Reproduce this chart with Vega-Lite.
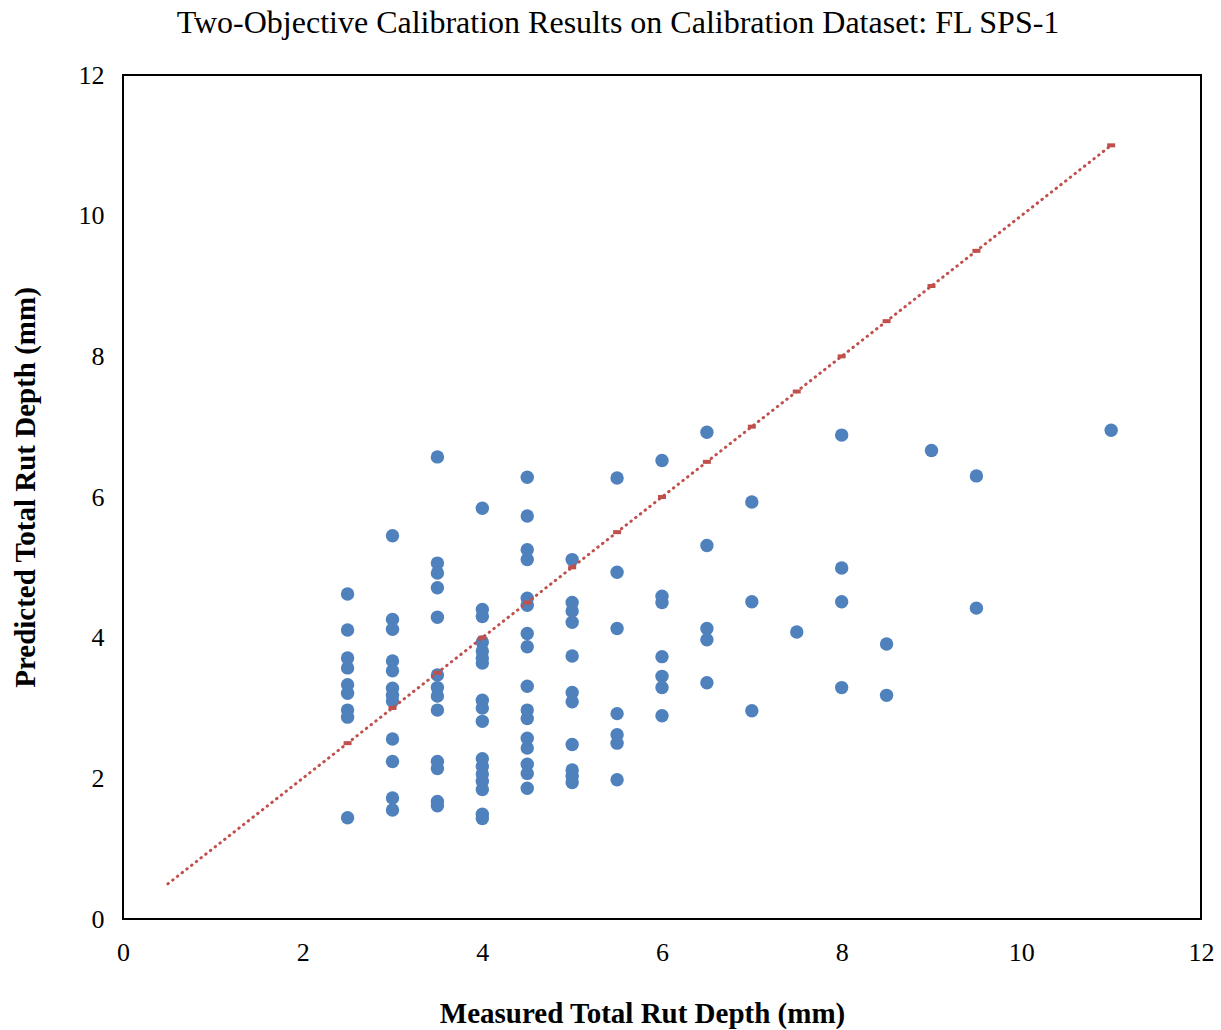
{
  "$schema": "https://vega.github.io/schema/vega-lite/v6.json",
  "autosize": "none",
  "width": 1078,
  "height": 844,
  "padding": {"left": 123, "top": 75, "right": 20, "bottom": 111},
  "background": "white",
  "title": {
    "text": "Two-Objective Calibration Results on Calibration Dataset: FL SPS-1",
    "font": "Liberation Serif",
    "fontSize": 32,
    "fontWeight": "normal",
    "color": "black",
    "anchor": "middle",
    "frame": "group",
    "dx": -44,
    "offset": 22
  },
  "config": {
    "view": {"stroke": "black", "strokeWidth": 2},
    "axis": {
      "grid": false,
      "ticks": false,
      "domain": false,
      "labelFlush": false,
      "labelFont": "Liberation Serif",
      "labelFontSize": 26,
      "labelColor": "black",
      "titleFont": "Liberation Serif",
      "titleFontSize": 29,
      "titleFontWeight": "bold",
      "titleColor": "black"
    }
  },
  "datasets": {
    "pts": [
      {"m": 2.5, "p": 4.62}, {"m": 2.5, "p": 4.11}, {"m": 2.5, "p": 3.71}, {"m": 2.5, "p": 3.57}, {"m": 2.5, "p": 3.33}, {"m": 2.5, "p": 3.21}, {"m": 2.5, "p": 2.97}, {"m": 2.5, "p": 2.87}, {"m": 2.5, "p": 1.44},
      {"m": 3, "p": 5.45}, {"m": 3, "p": 4.26}, {"m": 3, "p": 4.12}, {"m": 3, "p": 3.67}, {"m": 3, "p": 3.53}, {"m": 3, "p": 3.28}, {"m": 3, "p": 3.18}, {"m": 3, "p": 3.10}, {"m": 3, "p": 2.56}, {"m": 3, "p": 2.24}, {"m": 3, "p": 1.72}, {"m": 3, "p": 1.55},
      {"m": 3.5, "p": 6.57}, {"m": 3.5, "p": 5.06}, {"m": 3.5, "p": 4.92}, {"m": 3.5, "p": 4.71}, {"m": 3.5, "p": 4.29}, {"m": 3.5, "p": 3.47}, {"m": 3.5, "p": 3.29}, {"m": 3.5, "p": 3.17}, {"m": 3.5, "p": 2.97}, {"m": 3.5, "p": 2.24}, {"m": 3.5, "p": 2.14}, {"m": 3.5, "p": 1.67}, {"m": 3.5, "p": 1.61},
      {"m": 4, "p": 5.84}, {"m": 4, "p": 4.40}, {"m": 4, "p": 4.30}, {"m": 4, "p": 3.94}, {"m": 4, "p": 3.81}, {"m": 4, "p": 3.71}, {"m": 4, "p": 3.64}, {"m": 4, "p": 3.11}, {"m": 4, "p": 3.00}, {"m": 4, "p": 2.81}, {"m": 4, "p": 2.28}, {"m": 4, "p": 2.17}, {"m": 4, "p": 2.06}, {"m": 4, "p": 1.96}, {"m": 4, "p": 1.84}, {"m": 4, "p": 1.49}, {"m": 4, "p": 1.43},
      {"m": 4.5, "p": 6.28}, {"m": 4.5, "p": 5.73}, {"m": 4.5, "p": 5.25}, {"m": 4.5, "p": 5.11}, {"m": 4.5, "p": 4.56}, {"m": 4.5, "p": 4.46}, {"m": 4.5, "p": 4.06}, {"m": 4.5, "p": 3.87}, {"m": 4.5, "p": 3.31}, {"m": 4.5, "p": 2.97}, {"m": 4.5, "p": 2.85}, {"m": 4.5, "p": 2.57}, {"m": 4.5, "p": 2.43}, {"m": 4.5, "p": 2.20}, {"m": 4.5, "p": 2.07}, {"m": 4.5, "p": 1.86},
      {"m": 5, "p": 5.11}, {"m": 5, "p": 4.50}, {"m": 5, "p": 4.38}, {"m": 5, "p": 4.22}, {"m": 5, "p": 3.74}, {"m": 5, "p": 3.22}, {"m": 5, "p": 3.09}, {"m": 5, "p": 2.48}, {"m": 5, "p": 2.12}, {"m": 5, "p": 2.03}, {"m": 5, "p": 1.94},
      {"m": 5.5, "p": 6.27}, {"m": 5.5, "p": 4.93}, {"m": 5.5, "p": 4.13}, {"m": 5.5, "p": 2.92}, {"m": 5.5, "p": 2.62}, {"m": 5.5, "p": 2.50}, {"m": 5.5, "p": 1.98},
      {"m": 6, "p": 6.52}, {"m": 6, "p": 4.59}, {"m": 6, "p": 4.50}, {"m": 6, "p": 3.73}, {"m": 6, "p": 3.45}, {"m": 6, "p": 3.29}, {"m": 6, "p": 2.89},
      {"m": 6.5, "p": 6.92}, {"m": 6.5, "p": 5.31}, {"m": 6.5, "p": 4.13}, {"m": 6.5, "p": 3.97}, {"m": 6.5, "p": 3.36},
      {"m": 7, "p": 5.93}, {"m": 7, "p": 4.51}, {"m": 7, "p": 2.96},
      {"m": 7.5, "p": 4.08},
      {"m": 8, "p": 6.88}, {"m": 8, "p": 4.99}, {"m": 8, "p": 4.51}, {"m": 8, "p": 3.29},
      {"m": 8.5, "p": 3.91}, {"m": 8.5, "p": 3.18},
      {"m": 9, "p": 6.66},
      {"m": 9.5, "p": 6.30}, {"m": 9.5, "p": 4.42},
      {"m": 11, "p": 6.95}
    ],
    "line": [
      {"m": 0.5, "p": 0.5, "marker": false},
      {"m": 2.5, "p": 2.5, "marker": true}, {"m": 3, "p": 3, "marker": true}, {"m": 3.5, "p": 3.5, "marker": true}, {"m": 4, "p": 4, "marker": true},
      {"m": 4.5, "p": 4.5, "marker": true}, {"m": 5, "p": 5, "marker": true}, {"m": 5.5, "p": 5.5, "marker": true}, {"m": 6, "p": 6, "marker": true},
      {"m": 6.5, "p": 6.5, "marker": true}, {"m": 7, "p": 7, "marker": true}, {"m": 7.5, "p": 7.5, "marker": true}, {"m": 8, "p": 8, "marker": true},
      {"m": 8.5, "p": 8.5, "marker": true}, {"m": 9, "p": 9, "marker": true}, {"m": 9.5, "p": 9.5, "marker": true}, {"m": 11, "p": 11, "marker": true}
    ]
  },
  "encoding": {
    "x": {
      "field": "m", "type": "quantitative",
      "scale": {"domain": [0, 12], "nice": false, "zero": true},
      "axis": {"values": [0, 2, 4, 6, 8, 10, 12], "title": "Measured Total Rut Depth (mm)", "labelPadding": 20, "titleX": 519, "titleY": 80, "titleBaseline": "top", "titleAnchor": "start", "titleAlign": "center"}
    },
    "y": {
      "field": "p", "type": "quantitative",
      "scale": {"domain": [0, 12], "nice": false},
      "axis": {"values": [0, 2, 4, 6, 8, 10, 12], "title": "Predicted Total Rut Depth (mm)", "labelPadding": 19, "titleX": -98, "titleY": 412, "titleAlign": "center", "titleBaseline": "middle", "titleAngle": -90}
    }
  },
  "layer": [
    {
      "data": {"name": "pts"},
      "mark": {"type": "circle", "size": 180, "color": "#4F81BD", "opacity": 1}
    },
    {
      "data": {"name": "line"},
      "mark": {"type": "line", "color": "#C0504D", "strokeWidth": 3, "strokeDash": [0.5, 5.5], "strokeCap": "round"}
    },
    {
      "data": {"name": "line"},
      "transform": [{"filter": "datum.marker"}],
      "mark": {"type": "tick", "orient": "horizontal", "color": "#C0504D", "size": 8, "thickness": 4, "opacity": 1}
    }
  ]
}
